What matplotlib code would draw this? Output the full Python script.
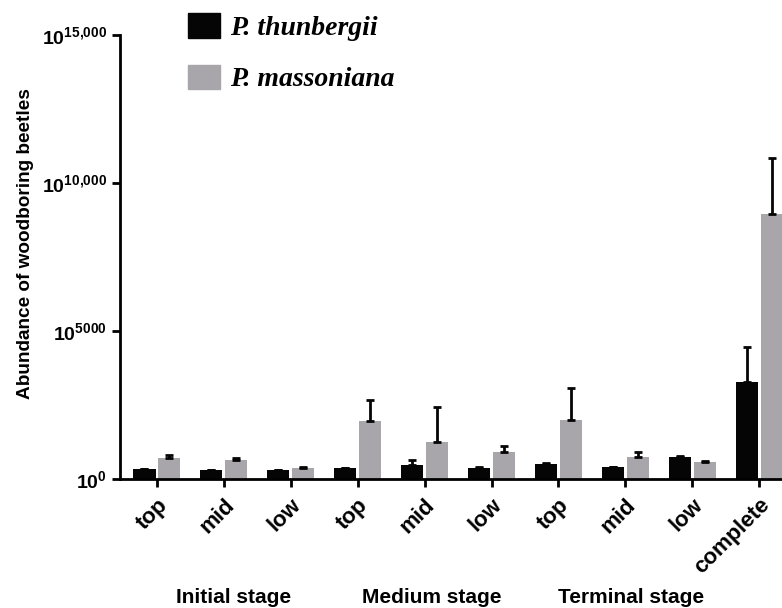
import numpy as np
import matplotlib
matplotlib.use('Agg')
import matplotlib.pyplot as plt
from matplotlib.patches import Patch

plt.rcParams['font.family'] = 'Liberation Sans'
plt.rcParams['mathtext.fontset'] = 'custom'
plt.rcParams['mathtext.bf'] = 'Liberation Sans:bold'
plt.rcParams['mathtext.rm'] = 'Liberation Sans'

# data (exponent scale)
positions = ['top', 'mid', 'low', 'top', 'mid', 'low', 'top', 'mid', 'low', 'complete']
thunbergii = [340, 300, 300, 370, 470, 370, 500, 400, 740, 3280]
thunbergii_err = [0, 0, 0, 0, 170, 40, 40, 0, 40, 1180]
massoniana = [710, 640, 370, 1960, 1250, 910, 1990, 740, 570, 8950]
massoniana_err = [100, 70, 30, 710, 1180, 200, 1080, 170, 40, 1890]
stages = ['Initial stage', 'Medium stage', 'Terminal stage']
stage_x = [1.14, 4.11, 7.09]
yticks = [0, 5000, 10000, 15000]
ytick_labels = [r'$\mathbf{10^{0}}$', r'$\mathbf{10^{5000}}$',
                r'$\mathbf{10^{10{,}000}}$', r'$\mathbf{10^{15{,}000}}$']

black = '#050505'
gray = '#a8a6ab'

fig = plt.figure(figsize=(7.82, 6.08), dpi=100)
ax = fig.add_axes([0.1535, 0.2122, 0.8465, 0.7303])

x = np.arange(len(positions))
w = 0.33
ax.bar(x - w / 2 - 0.02, thunbergii, w, color=black,
       yerr=[np.zeros(len(x)), thunbergii_err], capsize=3,
       error_kw=dict(elinewidth=2, capthick=2, ecolor=black))
ax.bar(x + w / 2 + 0.02, massoniana, w, color=gray,
       yerr=[np.zeros(len(x)), massoniana_err], capsize=3,
       error_kw=dict(elinewidth=2, capthick=2, ecolor=black))

ax.set_xlim(-0.55, 9.34)
ax.set_ylim(0, 15000)
ax.set_yticks(yticks)
ax.set_yticklabels(ytick_labels, fontsize=14)
ax.set_xticks(x)
ax.set_xticklabels(positions, rotation=45, ha='right', rotation_mode='anchor',
                   fontsize=16, fontweight='bold')
ax.tick_params(axis='both', direction='out', length=6, width=2)
ax.tick_params(axis='x', pad=5)

for side in ['top', 'right']:
    ax.spines[side].set_visible(False)
for side in ['left', 'bottom']:
    ax.spines[side].set_linewidth(2)

ax.set_ylabel('Abundance of woodboring beetles', fontsize=13.7, fontweight='bold')
ax.yaxis.set_label_coords(-0.13, 0.53)

for sx, s in zip(stage_x, stages):
    ax.text(sx, -0.268, s, transform=ax.get_xaxis_transform(), ha='center',
            va='center', fontsize=15, fontweight='bold')

handles = [Patch(facecolor=black, edgecolor=black),
           Patch(facecolor=gray, edgecolor=gray)]
fig.legend(handles, ['P. thunbergii', 'P. massoniana'], loc='upper left',
           bbox_to_anchor=(188 / 782, 1 - 13 / 608), frameon=False,
           borderpad=0, borderaxespad=0, handlelength=1.15,
           handleheight=1.0, labelspacing=0.85, handletextpad=0.36,
           prop=dict(family='Liberation Serif', style='italic', weight='bold', size=20))

fig.savefig('out.png', dpi=100)
